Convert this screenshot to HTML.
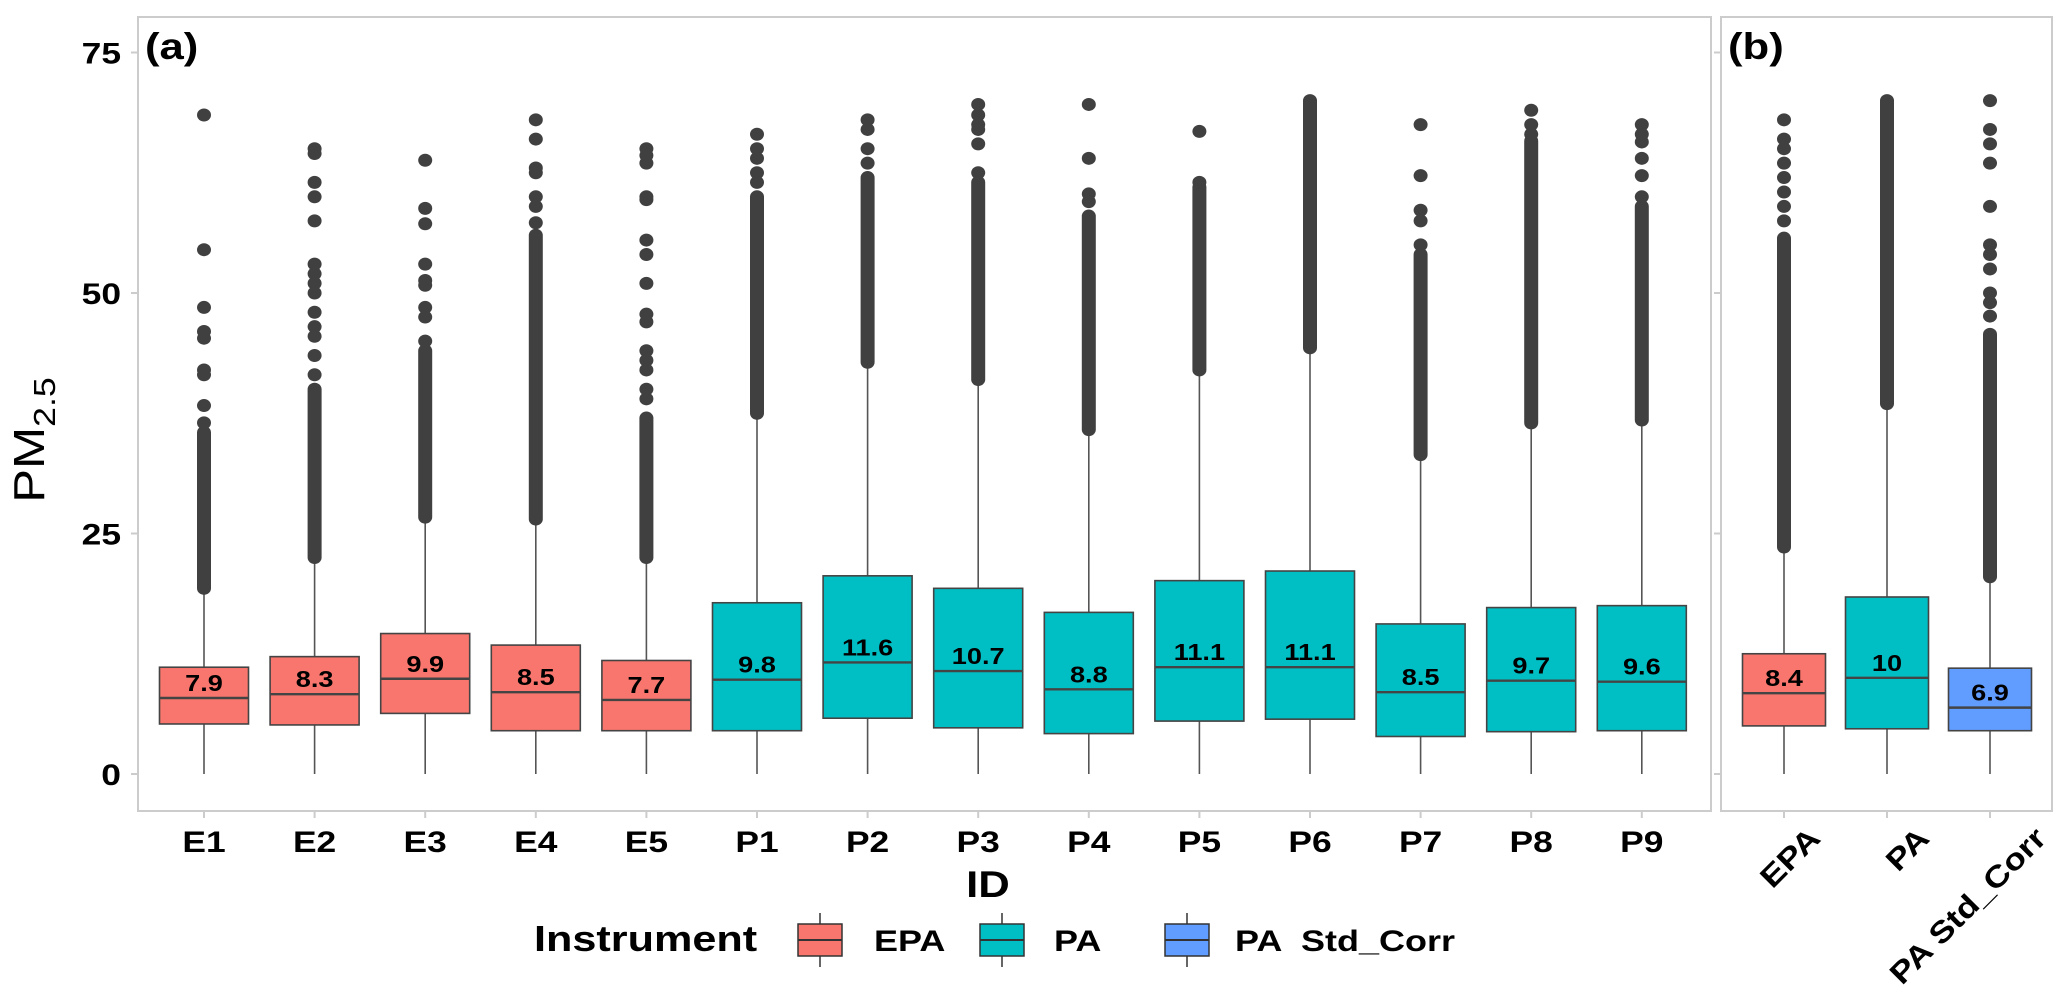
<!DOCTYPE html>
<html><head><meta charset="utf-8">
<style>
html,body{margin:0;padding:0;background:#fff;}
svg{display:block;font-family:"Liberation Sans",Arial,sans-serif;}
</style></head>
<body>
<svg id="chart" width="2067" height="1008" viewBox="0 0 2067 1008">
<rect x="0" y="0" width="2067" height="1008" fill="#fff"/>
<g id="gA"></g>
<g id="gB"></g>
<text transform="translate(44 440) rotate(-90) scale(1.15 1)" x="0" y="0" text-anchor="middle" font-size="44" fill="#000">PM<tspan font-size="31" dy="11">2.5</tspan></text>
<text transform="translate(988 897) scale(1.18 1)" x="0" y="0" text-anchor="middle" font-size="37" font-weight="bold" fill="#000">ID</text>
<g>
<text transform="translate(534 951) scale(1.2 1)" x="0" y="0" font-size="36" font-weight="bold" fill="#000">Instrument</text>
<g>
<line x1="820" y1="913" x2="820" y2="967" stroke="#333" stroke-width="1.5"/>
<rect x="798" y="924" width="44" height="32" fill="#F8766D" stroke="#333" stroke-width="1.5"/>
<line x1="798" y1="940" x2="842" y2="940" stroke="#333" stroke-width="2"/>
<text transform="translate(874 951) scale(1.2 1)" x="0" y="0" font-size="30" font-weight="bold" fill="#000">EPA</text></g>
<g>
<line x1="1002" y1="913" x2="1002" y2="967" stroke="#333" stroke-width="1.5"/>
<rect x="980" y="924" width="44" height="32" fill="#00BFC4" stroke="#333" stroke-width="1.5"/>
<line x1="980" y1="940" x2="1024" y2="940" stroke="#333" stroke-width="2"/>
<text transform="translate(1054 951) scale(1.2 1)" x="0" y="0" font-size="30" font-weight="bold" fill="#000">PA</text></g>
<g>
<line x1="1187" y1="913" x2="1187" y2="967" stroke="#333" stroke-width="1.5"/>
<rect x="1165" y="924" width="44" height="32" fill="#619CFF" stroke="#333" stroke-width="1.5"/>
<line x1="1165" y1="940" x2="1209" y2="940" stroke="#333" stroke-width="2"/>
<text transform="translate(1235 951) scale(1.2 1)" x="0" y="0" font-size="30" font-weight="bold" fill="#000" xml:space="preserve">PA  Std_Corr</text></g>
</g>
</svg>
<script>
// ---- data ----
const catsA = ["E1","E2","E3","E4","E5","P1","P2","P3","P4","P5","P6","P7","P8","P9"];
const groupA = ["EPA","EPA","EPA","EPA","EPA","PA","PA","PA","PA","PA","PA","PA","PA","PA"];
const q1A = [5.2,5.1,6.3,4.5,4.5,4.5,5.8,4.8,4.2,5.5,5.7,3.9,4.4,4.5];
const medA = [7.9,8.3,9.9,8.5,7.7,9.8,11.6,10.7,8.8,11.1,11.1,8.5,9.7,9.6];
const q3A = [11.1,12.2,14.6,13.4,11.8,17.8,20.6,19.3,16.8,20.1,21.1,15.6,17.3,17.5];
const whiskLoA = [0,0,0,0,0,0,0,0,0,0,0,0,0,0];
const whiskHiA = [19.3,22.5,26.7,26.5,22.5,37.5,42.8,41,35.8,42,44.3,33.2,36.5,36.8];
const denseTopA = [35.5,40,44,56,37,60,62,61.5,58,61,70,54,65.8,59];
const sparseA = [
 [68.5,54.5,48.5,46,45.3,42,41.5,38.3,36.5],
 [65,64.5,61.5,60,57.5,53,52,51,50,48,46.5,45.5,43.5,41.5],
 [63.8,58.8,57.2,53,51.3,50.8,48.5,47.5,45],
 [68,66,63,62.5,60,59,57.3],
 [65,64.3,63.5,60,59.7,55.5,54,51,47.8,47,44,43,42,40,39],
 [66.5,65,64,62.5,61.5],
 [68,67,65,63.5],
 [69.6,68.5,67.5,67,65.5,62.5],
 [69.6,64,60.3,59.5],
 [66.8,61.5],
 [],
 [67.5,62.2,58.6,57.5,55],
 [69,67.5,66.5],
 [67.5,66.5,65.7,64,62.2,60]
];
const catsB = ["EPA","PA","PA  Std_Corr"];
const groupB = ["EPA","PA","STD"];
const q1B = [5.0,4.7,4.5];
const medB = [8.4,10,6.9];
const q3B = [12.5,18.4,11.0];
const whiskLoB = [0,0,0];
const whiskHiB = [23.6,38.5,20.5];
const denseTopB = [55.7,70,45.7];
const sparseB = [
 [68,66,65,63.5,62,60.5,59,57.5],
 [],
 [70,67,65.5,63.5,59,55,54,52.5,50,49,47.6]
];
const yTicks = [0,25,50,75];
const colors = {EPA:"#F8766D",PA:"#00BFC4",STD:"#619CFF"};
const rotOffsets = [38,44,58];

// ---- scales ----
const Y0 = 774, PXU = 9.62;
function yScale(v){ return Y0 - v*PXU; }
function xA(i){ return 204 + i*110.6; }
function xB(i){ return 1784 + i*103; }
const NS = "http://www.w3.org/2000/svg";
function mk(tag, attrs, parent){
  const e = document.createElementNS(NS, tag);
  for (const k in attrs) e.setAttribute(k, attrs[k]);
  parent.appendChild(e); return e;
}
function txt(parent, x, y, s, size, anchor, extra){
  const t = mk("text",{x:0,y:0,"text-anchor":anchor,"font-size":size,"font-weight":"bold",fill:"#000",
    transform:"translate("+x+" "+y+") "+(extra||"")+" scale(1.18 1)"},parent);
  t.setAttribute("xml:space","preserve");
  t.textContent = s; return t;
}

function panel(g, x0, x1, labelTxt, showTickLabels, name){
  const fr = mk("rect",{x:x0,y:17,width:x1-x0,height:794,fill:"none",stroke:"#cccccc","stroke-width":2},g);
  
  
  yTicks.forEach(t=>{
    const y = yScale(t);
    const tk = mk("line",{x1:x0-7,y1:y,x2:x0,y2:y,stroke:"#cccccc","stroke-width":2},g);
    
    
    if (showTickLabels){
      const tl = txt(g, x0-17, y+11, String(t), 30, "end");
      
      
    }
  });
  const lb = txt(g, x0+7, 59, labelTxt, 37, "start");
  
  
}

function boxes(g, cats, xf, bw, grp, q1, med, q3, wl, wh, dt, sp, rotate){
  cats.forEach((c,i)=>{
    const x = xf(i);
    const bg = mk("g",{},g);
    
    
    mk("line",{x1:x,y1:yScale(wl[i]),x2:x,y2:yScale(wh[i]),stroke:"#555","stroke-width":1.6},bg);
    const top = yScale(dt[i]), bot = yScale(wh[i]);
    const dc = mk("rect",{x:x-7,y:top-6.5,width:14,height:(bot-top)+13,rx:7,ry:6.5,fill:"#404040"},bg);
    
    
    sp[i].forEach(v=>{
      const d = mk("ellipse",{cx:x,cy:yScale(v),rx:7,ry:6.5,fill:"#404040"},bg);
      
      
    });
    mk("rect",{x:x-bw/2,y:yScale(q3[i]),width:bw,height:yScale(q1[i])-yScale(q3[i]),fill:colors[grp[i]],stroke:"#444","stroke-width":1.6},bg);
    mk("line",{x1:x-bw/2,y1:yScale(med[i]),x2:x+bw/2,y2:yScale(med[i]),stroke:"#444","stroke-width":2.4},bg);
    const t = txt(bg, x, yScale(med[i])-7, String(med[i]), 23, "middle");
    
    
    mk("line",{x1:x,y1:811,x2:x,y2:818,stroke:"#cccccc","stroke-width":2},g);
    let xl;
    if (rotate){
      xl = txt(g, x+rotOffsets[i], 840, c, 30, "end", "rotate(-45)");
    } else {
      xl = txt(g, x, 852, c, 30, "middle");
    }
    
    
  });
}

const gA = document.getElementById("gA"), gB = document.getElementById("gB");
panel(gA, 138, 1711, "(a)", true, "panel-a");
panel(gB, 1721, 2052, "(b)", false, "panel-b");
boxes(gA, catsA, xA, 89, groupA, q1A, medA, q3A, whiskLoA, whiskHiA, denseTopA, sparseA, false);
boxes(gB, catsB, xB, 83, groupB, q1B, medB, q3B, whiskLoB, whiskHiB, denseTopB, sparseB, true);
</script>
</body></html>
